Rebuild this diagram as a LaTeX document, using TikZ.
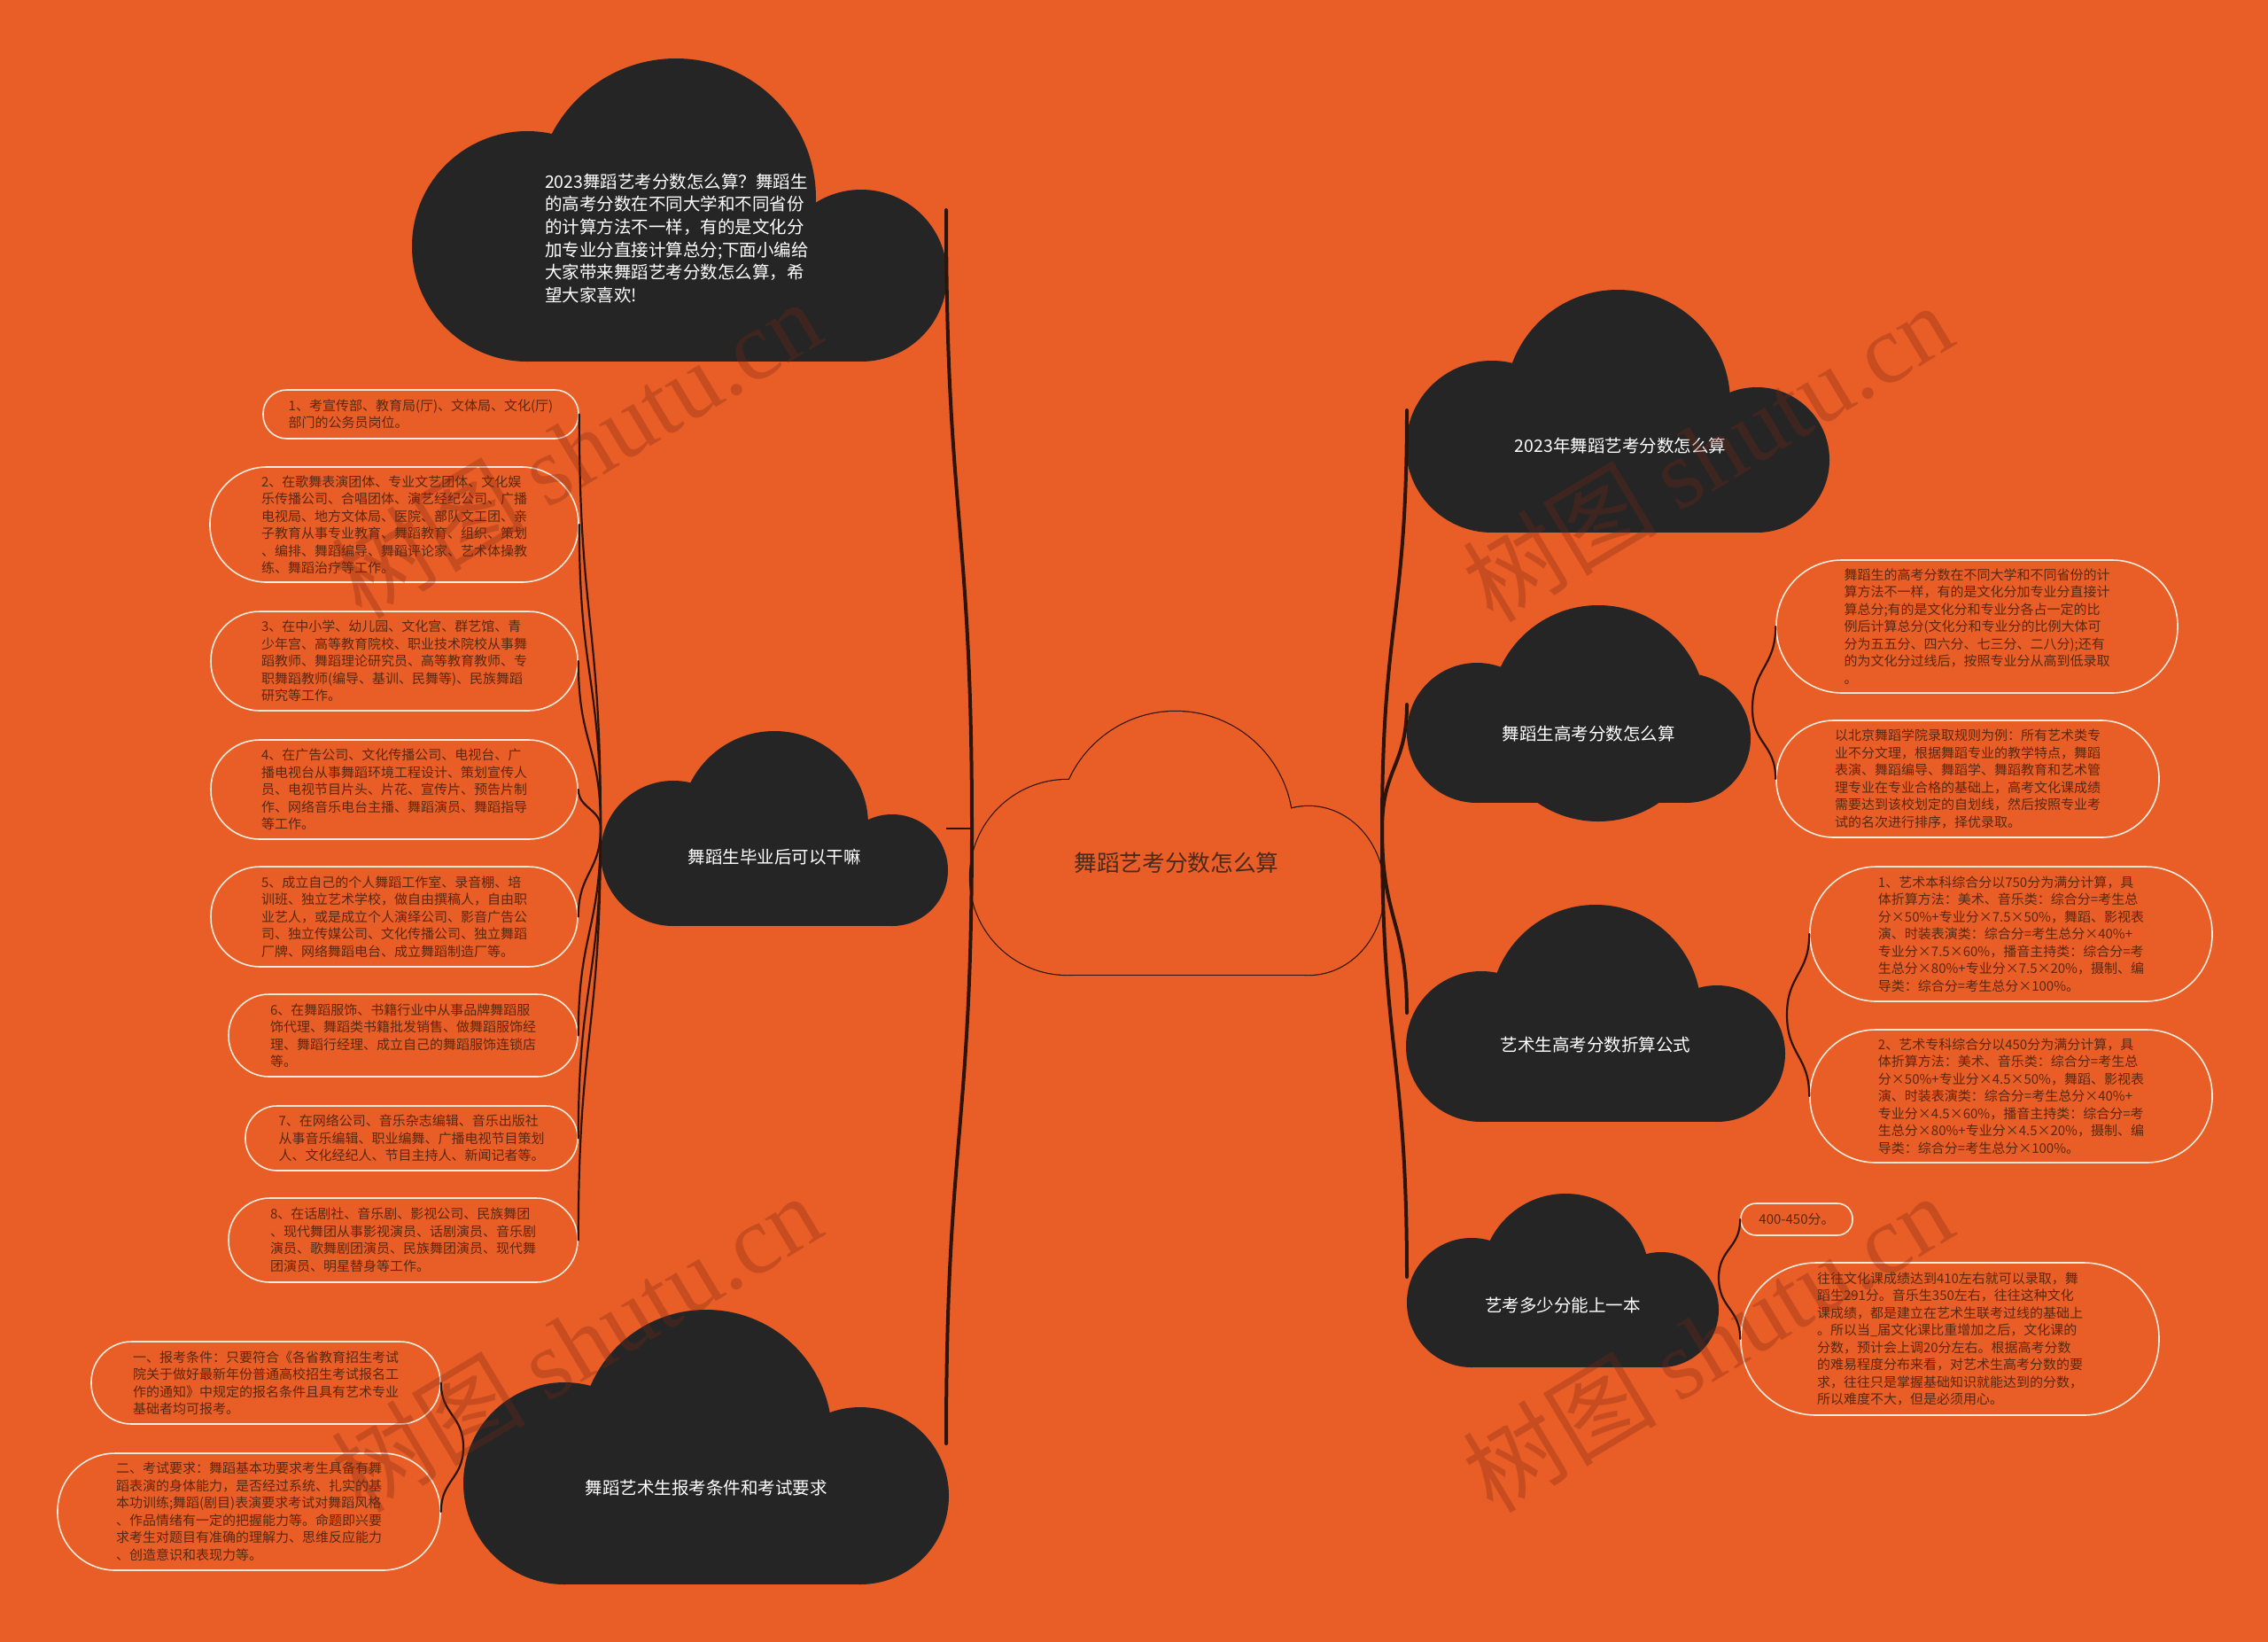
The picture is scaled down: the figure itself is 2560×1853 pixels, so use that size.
\documentclass[tikz,border=0pt]{standalone}
\usepackage{fontspec}
\setmainfont{Noto Sans CJK SC}
\newfontfamily\markfont{Liberation Serif}
\usepackage{tikz}
\usetikzlibrary{positioning, calc}
\usepackage{xcolor}
\definecolor{pageorange}{HTML}{E95E27}
\definecolor{clouddark}{HTML}{252525}
\definecolor{linkbrown}{HTML}{2E1408}
\definecolor{leafline}{HTML}{FBEBDD}
\definecolor{leaftext}{HTML}{5A2810}
\definecolor{roottext}{HTML}{4A2A1E}
\definecolor{markbrown}{HTML}{7A2814}

\begin{document}
\begin{tikzpicture}[x=1pt, y=-1pt,
  cloud/.style={fill=clouddark},
  cloudlabel/.style={text=white, align=left, inner sep=0pt, font=\fontsize{19.5pt}{25.7pt}\selectfont},
  rootlabel/.style={text=roottext, inner sep=0pt, font=\fontsize{25.7pt}{30pt}\selectfont},
  leaf/.style 2 args={draw=leafline, line width=1.6pt, text=leaftext, align=left, inner sep=0pt,
    minimum width=#1, minimum height=#2, rounded corners=#2/2-0.8pt,
    font=\fontsize{15pt}{19.5pt}\selectfont},
  mainlink/.style={draw=linkbrown, line width=4pt, line cap=round},
  sublink/.style={draw=linkbrown, line width=2.2pt, line cap=round},
  wmark/.style={text=markbrown, opacity=0.3, rotate=31, font=\fontsize{110pt}{110pt}\selectfont}]
  \fill[pageorange] (0,0) rectangle (2560,1853);
  \useasboundingbox (0,0) rectangle (2560,1853);

  % centre cloud, outline only
  \draw[linkbrown, line width=2.4pt] (1205,990) circle [radius=110];
  \draw[linkbrown, line width=2.4pt] (1477,1005) ellipse [x radius=85, y radius=95];
  \draw[linkbrown, line width=2.4pt] (1327,935) circle [radius=132];
  \draw[linkbrown, line width=2.4pt] (1205,1005) rectangle (1477,1100);
  \fill[pageorange] (1205,990) circle [radius=110];
  \fill[pageorange] (1477,1005) ellipse [x radius=85, y radius=95];
  \fill[pageorange] (1327,935) circle [radius=132];
  \fill[pageorange] (1205,1005) rectangle (1477,1100);
  \node[rootlabel] (root) at (1328,974) {舞蹈艺考分数怎么算};

  % dark clouds: left lobe, right lobe, top, base
  \fill[cloud] (595,278) circle [radius=130];
  \fill[cloud] (972,311) circle [radius=97];
  \fill[cloud] (763,224) circle [radius=158];
  \fill[cloud] (595,311) rectangle (972,408);

  \fill[cloud] (760,963) circle [radius=82];
  \fill[cloud] (1007,982) circle [radius=63];
  \fill[cloud] (874,931) circle [radius=106];
  \fill[cloud] (760,982) rectangle (1007,1045);

  \fill[cloud] (637,1674) circle [radius=114];
  \fill[cloud] (971,1688) circle [radius=100];
  \fill[cloud] (797,1620) circle [radius=142];
  \fill[cloud] (637,1688) rectangle (971,1788);

  \fill[cloud] (1684,504) circle [radius=97];
  \fill[cloud] (1983,519) circle [radius=82];
  \fill[cloud] (1826,454) circle [radius=127];
  \fill[cloud] (1684,519) rectangle (1983,601);

  \fill[cloud] (1667,827) circle [radius=79];
  \fill[cloud] (1903,833) circle [radius=73];
  \fill[cloud] (1804,805) circle [radius=122];
  \fill[cloud] (1667,833) rectangle (1903,906);

  \fill[cloud] (1672,1181) circle [radius=85];
  \fill[cloud] (1938,1189) circle [radius=77];
  \fill[cloud] (1801,1140) circle [radius=119];
  \fill[cloud] (1672,1189) rectangle (1938,1266);

  \fill[cloud] (1661,1470) circle [radius=73];
  \fill[cloud] (1875,1478) circle [radius=65];
  \fill[cloud] (1767,1442) circle [radius=95];
  \fill[cloud] (1661,1478) rectangle (1875,1543);

  \node[cloudlabel] (intro) at (764,269) {2023舞蹈艺考分数怎么算？舞蹈生\\的高考分数在不同大学和不同省份\\的计算方法不一样，有的是文化分\\加专业分直接计算总分;下面小编给\\大家带来舞蹈艺考分数怎么算，希\\望大家喜欢!};
  \node[cloudlabel] (job) at (874,967) {舞蹈生毕业后可以干嘛};
  \node[cloudlabel] (form) at (797,1679) {舞蹈艺术生报考条件和考试要求};
  \node[cloudlabel] (sum) at (1829,503) {2023年舞蹈艺考分数怎么算};
  \node[cloudlabel] (calc) at (1793,828) {舞蹈生高考分数怎么算};
  \node[cloudlabel] (rule) at (1801,1179) {艺术生高考分数折算公式};
  \node[cloudlabel] (score) at (1764,1473) {艺考多少分能上一本};

  % leaves, left
  \node[leaf={356pt}{55pt}] (job1) at (475,467.5) {1、考宣传部、教育局(厅)、文体局、文化(厅)\\部门的公务员岗位。};
  \node[leaf={416pt}{130pt}] (job2) at (445,592) {2、在歌舞表演团体、专业文艺团体、文化娱\\乐传播公司、合唱团体、演艺经纪公司、广播\\电视局、地方文体局、医院、部队文工团、亲\\子教育从事专业教育、舞蹈教育、组织、策划\\、编排、舞蹈编导、舞蹈评论家、艺术体操教\\练、舞蹈治疗等工作。};
  \node[leaf={414pt}{112pt}] (job3) at (445,746) {3、在中小学、幼儿园、文化宫、群艺馆、青\\少年宫、高等教育院校、职业技术院校从事舞\\蹈教师、舞蹈理论研究员、高等教育教师、专\\职舞蹈教师(编导、基训、民舞等)、民族舞蹈\\研究等工作。};
  \node[leaf={414pt}{112pt}] (job4) at (445,891) {4、在广告公司、文化传播公司、电视台、广\\播电视台从事舞蹈环境工程设计、策划宣传人\\员、电视节目片头、片花、宣传片、预告片制\\作、网络音乐电台主播、舞蹈演员、舞蹈指导\\等工作。};
  \node[leaf={414pt}{113pt}] (job5) at (445,1034.5) {5、成立自己的个人舞蹈工作室、录音棚、培\\训班、独立艺术学校，做自由撰稿人，自由职\\业艺人，或是成立个人演绎公司、影音广告公\\司、独立传媒公司、文化传播公司、独立舞蹈\\厂牌、网络舞蹈电台、成立舞蹈制造厂等。};
  \node[leaf={394pt}{93pt}] (job6) at (455,1168.5) {6、在舞蹈服饰、书籍行业中从事品牌舞蹈服\\饰代理、舞蹈类书籍批发销售、做舞蹈服饰经\\理、舞蹈行经理、成立自己的舞蹈服饰连锁店\\等。};
  \node[leaf={375pt}{73pt}] (job7) at (464.5,1284.5) {7、在网络公司、音乐杂志编辑、音乐出版社\\从事音乐编辑、职业编舞、广播电视节目策划\\人、文化经纪人、节目主持人、新闻记者等。};
  \node[leaf={394pt}{95pt}] (job8) at (455,1399.5) {8、在话剧社、音乐剧、影视公司、民族舞团\\、现代舞团从事影视演员、话剧演员、音乐剧\\演员、歌舞剧团演员、民族舞团演员、现代舞\\团演员、明星替身等工作。};
  \node[leaf={394pt}{93pt}] (form1) at (300,1560.5) {一、报考条件：只要符合《各省教育招生考试\\院关于做好最新年份普通高校招生考试报名工\\作的通知》中规定的报名条件且具有艺术专业\\基础者均可报考。};
  \node[leaf={432pt}{132pt}] (form2) at (281,1706) {二、考试要求：舞蹈基本功要求考生具备有舞\\蹈表演的身体能力，是否经过系统、扎实的基\\本功训练;舞蹈(剧目)表演要求考试对舞蹈风格\\、作品情绪有一定的把握能力等。命题即兴要\\求考生对题目有准确的理解力、思维反应能力\\、创造意识和表现力等。};

  % leaves, right
  \node[leaf={453pt}{150pt}] (calc1) at (2231.5,707) {舞蹈生的高考分数在不同大学和不同省份的计\\算方法不一样，有的是文化分加专业分直接计\\算总分;有的是文化分和专业分各占一定的比\\例后计算总分(文化分和专业分的比例大体可\\分为五五分、四六分、七三分、二八分);还有\\的为文化分过线后，按照专业分从高到低录取\\。};
  \node[leaf={432pt}{132pt}] (calc2) at (2221,879) {以北京舞蹈学院录取规则为例：所有艺术类专\\业不分文理，根据舞蹈专业的教学特点，舞蹈\\表演、舞蹈编导、舞蹈学、舞蹈教育和艺术管\\理专业在专业合格的基础上，高考文化课成绩\\需要达到该校划定的自划线，然后按照专业考\\试的名次进行排序，择优录取。};
  \node[leaf={454pt}{152pt}] (rule1) at (2270,1054) {1、艺术本科综合分以750分为满分计算，具\\体折算方法：美术、音乐类：综合分=考生总\\分×50\%+专业分×7.5×50\%，舞蹈、影视表\\演、时装表演类：综合分=考生总分×40\%+\\专业分×7.5×60\%，播音主持类：综合分=考\\生总分×80\%+专业分×7.5×20\%，摄制、编\\导类：综合分=考生总分×100\%。};
  \node[leaf={454pt}{150pt}] (rule2) at (2270,1237) {2、艺术专科综合分以450分为满分计算，具\\体折算方法：美术、音乐类：综合分=考生总\\分×50\%+专业分×4.5×50\%，舞蹈、影视表\\演、时装表演类：综合分=考生总分×40\%+\\专业分×4.5×60\%，播音主持类：综合分=考\\生总分×80\%+专业分×4.5×20\%，摄制、编\\导类：综合分=考生总分×100\%。};
  \node[leaf={126pt}{36pt}] (score1) at (2028,1376) {400-450分。};
  \node[leaf={472pt}{172pt}] (score2) at (2201,1511) {往往文化课成绩达到410左右就可以录取，舞\\蹈生291分。音乐生350左右，往往这种文化\\课成绩，都是建立在艺术生联考过线的基础上\\。所以当\_届文化课比重增加之后，文化课的\\分数，预计会上调20分左右。根据高考分数\\的难易程度分布来看，对艺术生高考分数的要\\求，往往只是掌握基础知识就能达到的分数，\\所以难度不大，但是必须用心。};

  % connector ends
  \coordinate (rootW) at (1097,935);
  \coordinate (rootE) at (1560,936);
  \coordinate (introE) at (1068,237);
  \coordinate (jobE) at (1068,935);
  \coordinate (jobW) at (678,934);
  \coordinate (formE) at (1068,1629);
  \coordinate (formW) at (523,1633);
  \coordinate (sumW) at (1588,463);
  \coordinate (calcW) at (1588,795);
  \coordinate (calcE) at (1978,800);
  \coordinate (ruleW) at (1588,1143);
  \coordinate (ruleE) at (2017,1145);
  \coordinate (scoreW) at (1588,1441);
  \coordinate (scoreE) at (1940,1442);

  % main branches
  \draw[mainlink] (rootW) .. controls +(0,-349) and +(0,349) .. (introE);
  \draw[mainlink] (rootW) .. controls +(0,347) and +(0,-347) .. (formE);
  \draw[draw=linkbrown, line width=2.5pt] (jobE) -- (rootW);
  \draw[mainlink] (rootE) .. controls +(0,-236) and +(0,236) .. (sumW);
  \draw[mainlink] (rootE) .. controls +(0,-70) and +(0,70) .. (calcW);
  \draw[mainlink] (rootE) .. controls +(0,103) and +(0,-103) .. (ruleW);
  \draw[mainlink] (rootE) .. controls +(0,252) and +(0,-252) .. (scoreW);

  % sub branches
  \draw[sublink] (jobW) .. controls +(0,-233) and +(0,233) .. (job1.east);
  \draw[sublink] (jobW) .. controls +(0,-171) and +(0,171) .. (job2.east);
  \draw[sublink] (jobW) .. controls +(0,-94) and +(0,94) .. (job3.east);
  \draw[sublink] (jobW) .. controls +(0,-21) and +(0,21) .. (job4.east);
  \draw[sublink] (jobW) .. controls +(0,50) and +(0,-50) .. (job5.east);
  \draw[sublink] (jobW) .. controls +(0,117) and +(0,-117) .. (job6.east);
  \draw[sublink] (jobW) .. controls +(0,175) and +(0,-175) .. (job7.east);
  \draw[sublink] (jobW) .. controls +(0,233) and +(0,-233) .. (job8.east);
  \draw[sublink] (formW) .. controls +(0,-36) and +(0,36) .. (form1.east);
  \draw[sublink] (formW) .. controls +(0,36) and +(0,-36) .. (form2.east);
  \draw[sublink] (calcE) .. controls +(0,-46) and +(0,46) .. (calc1.west);
  \draw[sublink] (calcE) .. controls +(0,40) and +(0,-40) .. (calc2.west);
  \draw[sublink] (ruleE) .. controls +(0,-45) and +(0,45) .. (rule1.west);
  \draw[sublink] (ruleE) .. controls +(0,46) and +(0,-46) .. (rule2.west);
  \draw[sublink] (scoreE) .. controls +(0,-33) and +(0,33) .. (score1.west);
  \draw[sublink] (scoreE) .. controls +(0,35) and +(0,-35) .. (score2.west);

  % watermarks
  \node[wmark] (wm1) at (650,506) {树图 {\markfont shutu.cn}};
  \node[wmark] (wm2) at (1927,510) {树图 {\markfont shutu.cn}};
  \node[wmark] (wm3) at (650,1515) {树图 {\markfont shutu.cn}};
  \node[wmark] (wm4) at (1927,1515) {树图 {\markfont shutu.cn}};
\end{tikzpicture}
\end{document}
